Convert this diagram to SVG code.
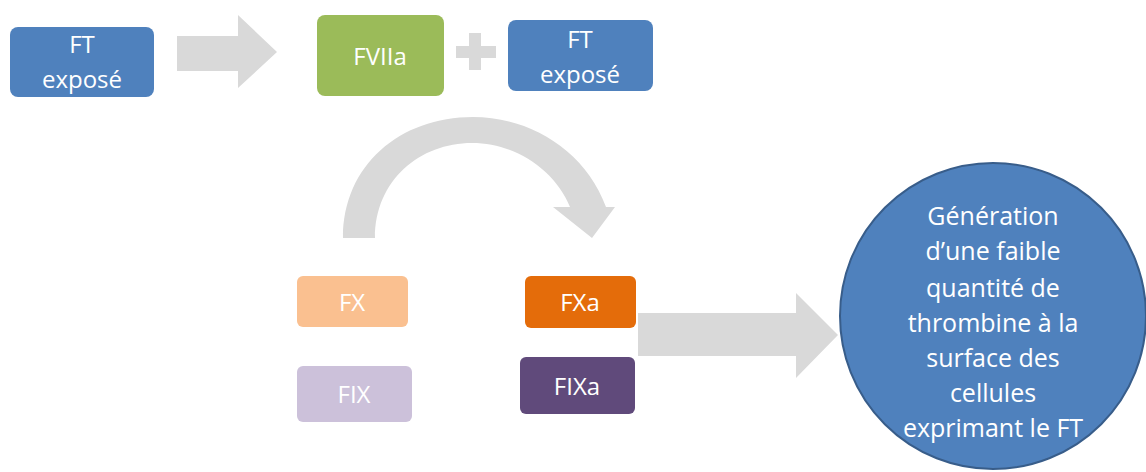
<svg xmlns="http://www.w3.org/2000/svg" width="1146" height="472" viewBox="0 0 1146 472">
<style>
.t{font-family:"Open Sans","Liberation Sans",Arial,sans-serif;font-size:24px;fill:#ffffff;text-anchor:middle;dominant-baseline:central}
.c{font-size:25px}
.arr{fill:#d9d9d9}
</style>
<rect width="1146" height="472" fill="#ffffff"/>
<g id="connectors">
<path class="arr" d="M177,36 L238,36 L238,15 L277,52 L238,88 L238,71 L177,71 Z"/>
<path id="plus" class="arr" d="M469,33 L481,33 L481,46 L496,46 L496,58 L481,58 L481,70 L469,70 L469,58 L456,58 L456,46 L469,46 Z"/>
<path class="arr" d="M343,238 C343,165 400,117 473,117 C530,117 585,150 606,207 L615,207 L592,238 L553,207 L570,207 C555,170 515,143 472,143 C420,143 375,180 375,238 Z"/>
<path class="arr" d="M638,313 L796,313 L796,293 L838,335 L796,378 L796,356 L638,356 Z"/>
</g>
<g id="ft1">
<rect x="10" y="27" width="144" height="70" rx="8" fill="#4f81bd"/>
<text class="t" x="82" y="43">FT</text>
<text class="t" x="82" y="78">exposé</text>
</g>
<g id="fviia">
<rect x="317" y="15" width="127" height="81" rx="8" fill="#9bbb59"/>
<text class="t" x="380" y="55">FVIIa</text>
</g>
<g id="ft2">
<rect x="508" y="20" width="145" height="71" rx="8" fill="#4f81bd"/>
<text class="t" x="580" y="38">FT</text>
<text class="t" x="580" y="73">exposé</text>
</g>
<g id="fx">
<rect x="297" y="276" width="111" height="51" rx="6" fill="#fac090"/>
<text class="t" x="352" y="301">FX</text>
</g>
<g id="fix">
<rect x="297" y="366" width="115" height="56" rx="6" fill="#ccc1da"/>
<text class="t" x="354" y="393">FIX</text>
</g>
<g id="fxa">
<rect x="525" y="276" width="111" height="52" rx="6" fill="#e46c0a"/>
<text class="t" x="580" y="301">FXa</text>
</g>
<g id="fixa">
<rect x="520" y="357" width="115" height="57" rx="6" fill="#604a7b"/>
<text class="t" x="577" y="385">FIXa</text>
</g>
<g id="thrombine">
<circle cx="993" cy="316" r="153" fill="#4f81bd" stroke="#385d8a" stroke-width="2"/>
<text class="t c" x="993" y="215">Génération</text>
<text class="t c" x="993" y="250">d’une faible</text>
<text class="t c" x="993" y="287">quantité de</text>
<text class="t c" x="993" y="322">thrombine à la</text>
<text class="t c" x="993" y="357">surface des</text>
<text class="t c" x="993" y="392">cellules</text>
<text class="t c" x="993" y="427">exprimant le FT</text>
</g>
</svg>
